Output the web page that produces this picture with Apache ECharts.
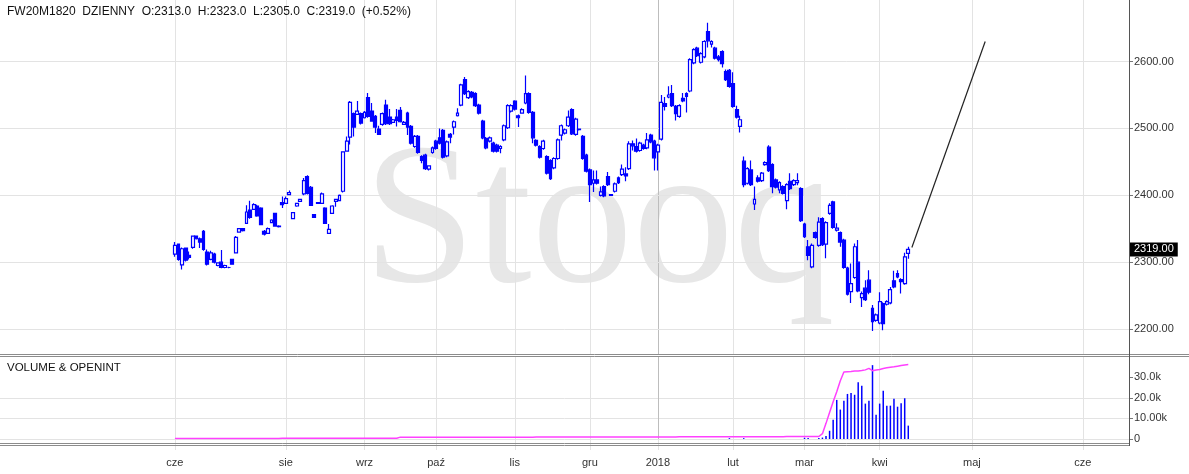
<!DOCTYPE html>
<html><head><meta charset="utf-8">
<script src="https://cdn.jsdelivr.net/npm/echarts@6/dist/echarts.min.js"></script>
<style>html,body{margin:0;padding:0;background:#fff}#c{width:1189px;height:474px}</style>
</head><body><div id="c"></div>
<script>
// ---- data (trading-day index 0..205) ----
const opens = [
2312,2327,2296,2321,2310,2322,2339,2335,2346,2315,
2304,2312,2295,2300,2292,2292,2304,2314,2345,2350,
2358,2378,2379,2384,2381,2346,2343,2359,2373,2354,
2389,2388,2401,2365,2384,2391,2402,2428,2412,2371,
2389,2388,2381,2343,2373,2391,2392,2406,2466,2487,
2522,2521,2522,2516,2546,2526,2518,2499,2506,2535,
2517,2509,2517,2527,2506,2523,2503,2473,2488,2458,
2460,2439,2464,2481,2486,2497,2459,2491,2502,2519,
2535,2573,2546,2554,2552,2535,2511,2485,2481,2478,
2475,2470,2483,2501,2526,2541,2519,2523,2538,2552,
2524,2482,2473,2470,2458,2452,2441,2455,2490,2493,
2504,2528,2491,2499,2488,2460,2438,2418,2423,2400,
2413,2428,2401,2406,2426,2431,2432,2440,2477,2473,
2467,2475,2471,2490,2481,2465,2484,2537,2547,2552,
2533,2518,2545,2552,2556,2598,2620,2599,2607,2645,
2626,2620,2607,2615,2585,2587,2567,2528,2503,2451,
2418,2438,2387,2426,2422,2446,2472,2446,2423,2408,
2413,2392,2421,2416,2419,2410,2357,2323,2293,2344,
2325,2365,2327,2373,2390,2348,2344,2333,2291,2256,
2277,2300,2247,2261,2273,2231,2213,2209,2238,2237,
2239,2272,2283,2274,2268,2313];
const closes = [
2325,2304,2320,2303,2307,2339,2335,2330,2319,2297,
2314,2300,2299,2292,2295,2292,2297,2337,2350,2347,
2375,2367,2386,2369,2356,2342,2350,2363,2354,2353,
2386,2395,2404,2374,2388,2394,2422,2403,2385,2367,
2388,2402,2358,2349,2384,2394,2400,2465,2481,2539,
2502,2526,2508,2524,2518,2511,2502,2491,2522,2507,
2507,2513,2512,2510,2509,2502,2478,2488,2464,2452,
2440,2444,2471,2470,2478,2457,2480,2487,2510,2523,
2565,2552,2555,2547,2534,2523,2486,2471,2486,2466,
2466,2473,2504,2534,2534,2529,2516,2528,2552,2524,
2486,2475,2457,2481,2433,2425,2455,2483,2504,2498,
2517,2492,2514,2498,2455,2436,2416,2423,2418,2405,
2399,2416,2400,2417,2419,2439,2429,2477,2474,2466,
2478,2470,2483,2480,2456,2475,2539,2533,2550,2534,
2522,2534,2541,2548,2603,2618,2609,2612,2630,2631,
2630,2605,2603,2597,2573,2563,2533,2517,2513,2416,
2440,2416,2394,2421,2433,2449,2437,2413,2412,2419,
2403,2416,2410,2422,2422,2362,2338,2310,2325,2337,
2360,2326,2359,2385,2352,2351,2330,2292,2252,2268,
2323,2257,2253,2244,2255,2211,2221,2241,2208,2241,
2259,2263,2278,2271,2308,2319];
const highs = [
2330,2328,2322,2322,2316,2340,2340,2337,2348,2319,
2317,2314,2300,2318,2296,2293,2305,2339,2351,2351,
2385,2392,2388,2386,2382,2348,2352,2364,2374,2355,
2398,2398,2407,2375,2389,2395,2426,2430,2414,2372,
2390,2404,2382,2357,2385,2395,2401,2466,2488,2541,
2524,2541,2524,2526,2553,2538,2520,2504,2524,2543,
2529,2514,2529,2532,2511,2525,2505,2490,2490,2460,
2462,2445,2473,2483,2500,2499,2482,2493,2512,2530,
2567,2577,2557,2556,2554,2537,2513,2487,2488,2480,
2477,2475,2506,2536,2536,2542,2521,2530,2579,2554,
2526,2484,2475,2483,2460,2454,2457,2485,2506,2500,
2527,2530,2516,2500,2490,2462,2440,2437,2437,2413,
2415,2435,2402,2419,2428,2446,2442,2481,2482,2485,
2480,2477,2493,2492,2483,2477,2550,2547,2563,2565,
2535,2536,2553,2554,2605,2620,2622,2614,2632,2658,
2632,2622,2610,2617,2588,2589,2584,2534,2519,2458,
2442,2452,2413,2430,2435,2451,2475,2448,2425,2421,
2415,2418,2433,2424,2433,2412,2359,2333,2328,2346,
2367,2367,2361,2388,2392,2358,2346,2335,2293,2298,
2328,2333,2256,2273,2288,2236,2223,2255,2240,2243,
2263,2287,2288,2276,2314,2323];
const lows = [
2308,2302,2289,2301,2304,2320,2334,2321,2317,2295,
2303,2298,2294,2291,2291,2291,2296,2313,2344,2346,
2357,2365,2378,2368,2355,2340,2342,2358,2353,2352,
2381,2387,2400,2364,2383,2390,2400,2401,2384,2366,
2387,2387,2357,2342,2372,2383,2391,2404,2465,2476,
2488,2520,2506,2515,2516,2510,2493,2490,2504,2505,
2505,2508,2503,2509,2505,2490,2476,2471,2462,2448,
2438,2437,2462,2468,2476,2455,2457,2478,2491,2518,
2533,2550,2544,2545,2532,2521,2484,2469,2479,2464,
2464,2463,2481,2499,2524,2527,2502,2522,2536,2522,
2478,2473,2455,2468,2431,2423,2439,2453,2482,2491,
2502,2490,2489,2497,2453,2434,2390,2405,2416,2398,
2397,2414,2399,2404,2417,2429,2421,2438,2467,2464,
2465,2468,2469,2478,2437,2437,2482,2527,2545,2532,
2512,2516,2539,2524,2554,2596,2607,2597,2605,2621,
2621,2603,2600,2591,2571,2561,2531,2515,2494,2412,
2416,2414,2378,2419,2420,2444,2435,2403,2410,2403,
2401,2379,2408,2414,2415,2360,2336,2303,2291,2335,
2323,2324,2306,2371,2350,2346,2323,2290,2250,2239,
2275,2255,2233,2242,2252,2197,2211,2207,2198,2235,
2237,2261,2276,2253,2266,2305];
const volumes = [
0,0,0,0,0,0,0,0,0,0, 0,0,0,0,0,0,0,0,0,0,
0,0,0,0,0,0,0,0,0,0, 0,0,0,0,0,0,0,0,0,0,
0,0,0,0,0,0,0,0,0,0, 0,0,0,0,0,0,0,0,0,0,
0,0,0,0,0,0,0,0,0,0, 0,0,0,0,0,0,0,0,0,0,
0,0,0,0,0,0,0,0,0,0, 0,0,0,0,0,0,0,0,0,0,
0,0,0,0,0,0,0,0,0,0, 0,0,0,0,0,0,0,0,0,0,
0,0,0,0,0,0,0,0,0,0, 0,0,0,0,0,0,0,0,0,0,
0,0,0,0,0,0,0,0,0,0, 0,0,0,0,0,400,0,0,0,400,
0,0,0,0,0,0,0,0,0,0, 0,0,0,0,0,0,600,500,0,0,
500,700,1500,4000,9400,19000,14300,18600,21900,22300,
21500,27600,25900,17200,18600,35900,11800,17200,23500,16200,
16200,19600,15700,17400,19800,6500];
const openInterest = [
300,300,300,300,300,300,300,300,300,300,
300,300,300,300,300,300,300,300,300,300,
300,300,300,300,300,300,300,300,300,300,
400,400,400,400,400,400,400,400,400,400,
400,400,400,400,400,400,400,400,400,400,
400,400,400,400,400,400,400,400,400,400,
400,400,400,900,900,900,900,900,900,900,
900,900,900,900,900,900,900,900,900,900,
900,900,900,900,900,900,900,900,900,900,
900,900,900,900,900,900,900,900,900,900,
900,1000,1000,1000,1000,1000,1000,1000,1000,1000,
1000,1000,1000,1000,1000,1000,1000,1000,1000,1000,
1000,1000,1000,1000,1000,1000,1000,1000,1000,1000,
1000,1000,1000,1000,1000,1000,1000,1000,1000,1000,
1000,1100,1100,1100,1100,1100,1100,1100,1100,1100,
1100,1100,1100,1100,1100,1100,1100,1100,1100,1100,
1100,1100,1100,1100,1100,1100,1100,1100,1100,1100,
1100,1200,1200,1200,1200,1200,1200,1200,1200,1200,
1200,2600,7600,12900,18100,23000,28300,32600,32700,32800,
33000,33100,33300,33600,34300,33200,33500,33800,34300,34600,
34900,35100,35400,35700,36000,36200];
const monthTicks = [0, 31, 53, 73, 95, 116, 135, 156, 176, 197, 222.8, 253.8];
const monthLabels = ['cze','sie','wrz','paź','lis','gru','2018','lut','mar','kwi','maj','cze'];
const priceTicks = [2200, 2300, 2400, 2500, 2600];
const volumeTicks = [0, 10000, 20000, 30000];
const volumeTickLabels = ['0', '10.00k', '20.0k', '30.0k'];
const trendLine = [[206, 2322], [226.5, 2630]];
const lastClose = 2319;
const titleText = 'FW20M1820  DZIENNY  O:2313.0  H:2323.0  L:2305.0  C:2319.0  (+0.52%)';

// ---- chart ----
const FONT = '"Liberation Sans", Arial, sans-serif';
const X_MIN = -48.9, X_MAX = 266.7;
const P_MIN = 2162.6, P_MAX = 2692.1;
const GRID_COLOR = '#e3e3e3';
const YEAR_COLOR = '#bdbdbd';

const candleData = opens.map((o, i) => [i, o, closes[i], lows[i], highs[i]]);
const volData = volumes.map((v, i) => [i, v]).filter(d => d[1] > 0);
const oiData = openInterest.map((v, i) => [i, v]);

function vLines() {
  return monthTicks.map((v, i) => monthLabels[i] === '2018'
    ? { xAxis: v, lineStyle: { color: YEAR_COLOR, width: 1, type: 'solid' } }
    : { xAxis: v });
}
const gridMark = (extra) => ({
  z: 1, silent: true, animation: false, symbol: ['none', 'none'],
  label: { show: false }, emphasis: { disabled: true },
  lineStyle: { color: GRID_COLOR, width: 1, type: 'solid' },
  data: vLines().concat(extra)
});

const chart = echarts.init(document.getElementById('c'), null, { renderer: 'canvas', width: 1189, height: 474 });
chart.setOption({
  animation: false,
  backgroundColor: '#ffffff',
  textStyle: { fontFamily: FONT },
  grid: [
    { left: 0, top: 0, width: 1129, height: 354 },
    { left: 0, top: 356.7, width: 1129, height: 82.3 }
  ],
  xAxis: [
    { type: 'value', gridIndex: 0, min: X_MIN, max: X_MAX,
      axisLine: { show: false, onZero: false }, axisTick: { show: false }, axisLabel: { show: false }, splitLine: { show: false } },
    { type: 'value', gridIndex: 1, min: X_MIN, max: X_MAX,
      axisLine: { show: false, onZero: false },
      axisTick: { show: true, customValues: monthTicks, length: 11, lineStyle: { color: GRID_COLOR } },
      axisLabel: { show: true, customValues: monthTicks, margin: 18, color: '#333', fontSize: 11, fontFamily: FONT,
        formatter: v => { const k = monthTicks.indexOf(v); return k >= 0 ? monthLabels[k] : ''; } },
      splitLine: { show: false } }
  ],
  yAxis: [
    { type: 'value', gridIndex: 0, position: 'right', min: P_MIN, max: P_MAX,
      axisLine: { show: false, onZero: false },
      axisTick: { show: true, customValues: priceTicks, length: 4, lineStyle: { color: '#777' } },
      axisLabel: { show: true, customValues: priceTicks, margin: 5, color: '#333', fontSize: 11, fontFamily: FONT,
        formatter: v => Number(v).toFixed(2) },
      splitLine: { show: false } },
    { type: 'value', gridIndex: 1, position: 'right', min: 0, max: 40000, interval: 10000,
      axisLine: { show: false, onZero: false },
      axisTick: { show: true, customValues: volumeTicks, length: 4, lineStyle: { color: '#777' } },
      axisLabel: { show: true, customValues: volumeTicks, margin: 5, color: '#333', fontSize: 11, fontFamily: FONT,
        formatter: v => { const k = volumeTicks.indexOf(v); return k >= 0 ? volumeTickLabels[k] : ''; } },
      splitLine: { show: true, showMaxLine: false, lineStyle: { color: GRID_COLOR, width: 1 } } }
  ],
  series: [
    { type: 'line', xAxisIndex: 0, yAxisIndex: 0, data: [], silent: true, z: 1,
      markLine: gridMark(priceTicks.map(v => ({ yAxis: v }))) },
    { type: 'line', xAxisIndex: 1, yAxisIndex: 1, data: [], silent: true, z: 1,
      markLine: gridMark([]) },
    { type: 'candlestick', xAxisIndex: 0, yAxisIndex: 0, data: candleData, barWidth: 3.4, z: 3,
      itemStyle: { color: '#ffffff', color0: '#0000ff', borderColor: '#0000ff', borderColor0: '#0000ff', borderWidth: 1.2 } },
    { type: 'line', xAxisIndex: 0, yAxisIndex: 0, data: trendLine, showSymbol: false, z: 4,
      lineStyle: { color: '#222', width: 1.2 } },
    { type: 'line', xAxisIndex: 0, yAxisIndex: 0, data: [], silent: true, clip: false, z: 6,
      markLine: { z: 6, silent: true, animation: false, symbol: ['none', 'none'],
        lineStyle: { color: 'rgba(0,0,0,0)', width: 0 },
        label: { show: true, position: 'end', distance: 1, formatter: lastClose.toFixed(2),
          backgroundColor: '#000', color: '#fff', padding: [2, 4, 1, 4], fontSize: 11, fontFamily: FONT },
        data: [{ yAxis: lastClose }] } },
    { type: 'bar', xAxisIndex: 1, yAxisIndex: 1, data: volData, barWidth: 1.5, z: 3,
      itemStyle: { color: '#0000ff' } },
    { type: 'line', xAxisIndex: 1, yAxisIndex: 1, data: oiData, showSymbol: false, z: 4,
      lineStyle: { color: '#ff40ff', width: 1.5 } }
  ],
  graphic: [
    { type: 'text', z: 0, silent: true,
      style: { text: 'Stooq', x: 599, y: 228, textAlign: 'center', textVerticalAlign: 'middle',
        font: '202px "Liberation Serif", "Times New Roman", serif', fill: '#e7e7e7' } },
    { type: 'text', z: 20, silent: true,
      style: { text: titleText, x: 7, y: 12, textVerticalAlign: 'middle', font: '12px ' + FONT, fill: '#111' } },
    { type: 'text', z: 20, silent: true,
      style: { text: 'VOLUME & OPENINT', x: 7, y: 368, textVerticalAlign: 'middle', font: '11.5px ' + FONT, fill: '#111' } },
    { type: 'line', z: 20, silent: true, shape: { x1: 0, y1: 354.5, x2: 1189, y2: 354.5 }, style: { stroke: '#8c8c8c', lineWidth: 1 } },
    { type: 'line', z: 20, silent: true, shape: { x1: 0, y1: 356.5, x2: 1189, y2: 356.5 }, style: { stroke: '#8c8c8c', lineWidth: 1 } },
    { type: 'line', z: 20, silent: true, shape: { x1: 0, y1: 443.5, x2: 1129, y2: 443.5 }, style: { stroke: '#8c8c8c', lineWidth: 1 } },
    { type: 'line', z: 20, silent: true, shape: { x1: 0, y1: 445.5, x2: 1129, y2: 445.5 }, style: { stroke: '#8c8c8c', lineWidth: 1 } },
    { type: 'line', z: 20, silent: true, shape: { x1: 1129.5, y1: 0, x2: 1129.5, y2: 446 }, style: { stroke: '#555', lineWidth: 1 } }
  ]
});
</script>
</body></html>
